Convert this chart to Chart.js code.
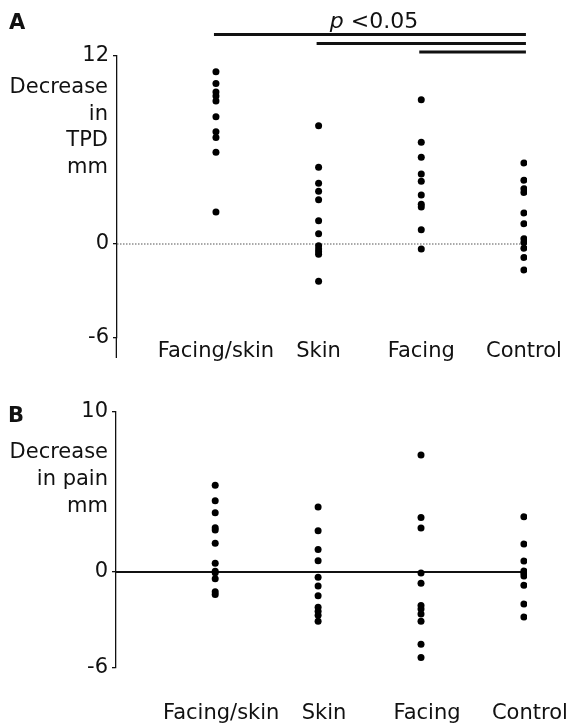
<!DOCTYPE html>
<html>
<head>
<meta charset="utf-8">
<script src="https://cdn.jsdelivr.net/npm/chart.js@4.4.1/dist/chart.umd.min.js"></script>
<style>
body { margin: 0; background: #fff; }
canvas { display: block; }
</style>
</head>
<body>
<canvas id="chartA" width="571" height="380"></canvas>
<canvas id="chartB" width="571" height="347"></canvas>
<script>
const FONT = "'DejaVu Sans', Verdana, sans-serif";
const INK = "#111";

const groups = ["Facing/skin", "Skin", "Facing", "Control"];

// panel A - decrease in TPD, mm
const tpdFacingSkin = [11.0, 10.25, 9.7, 9.45, 9.12, 8.13, 7.17, 6.8, 5.85, 2.05];
const tpdSkin = [7.55, 4.9, 3.88, 3.37, 2.82, 1.48, 0.65, -0.11, -0.32, -0.49, -0.66, -2.38];
const tpdFacing = [9.2, 6.5, 5.53, 4.47, 4.0, 3.13, 2.53, 2.36, 0.91, -0.32];
const tpdControl = [5.17, 4.07, 3.53, 3.28, 1.98, 1.3, 0.34, 0.1, -0.27, -0.86, -1.66];
const tpdTicks = [-6, 0, 12];
const tpdTitle = ["Decrease", "in", "TPD", "mm"];
// group pairs marked p < 0.05 (1-based group numbers)
const sigPairs = [[1, 4], [2, 4], [3, 4]];

// panel B - decrease in pain, mm
const painFacingSkin = [5.42, 4.46, 3.71, 2.77, 2.63, 1.79, 0.54, 0.04, -0.04, -0.42, -1.23, -1.4];
const painSkin = [4.06, 2.58, 1.4, 0.71, -0.33, -0.88, -1.48, -2.21, -2.45, -2.7, -3.08];
const painFacing = [7.31, 3.4, 2.75, -0.06, -0.71, -2.1, -2.31, -2.63, -3.08, -4.52, -5.35];
const painControl = [3.46, 1.75, 0.69, 0.06, -0.08, -0.25, -0.83, -2.0, -2.81];
const painTicks = [-6, 0, 10];
const painTitle = ["Decrease", "in pain", "mm"];

const toPoints = (series) => {
  let pts = [];
  series.forEach((vals, i) => {
    vals.forEach(v => pts.push({ x: i + 1, y: v }));
  });
  return pts;
};

// draws panel letter, stacked y title, zero line and significance bars
const panelDecor = {
  id: "panelDecor",
  beforeDatasetsDraw(chart, args, opts) {
    const ctx = chart.ctx;
    const area = chart.chartArea;
    const ys = chart.scales.y;

    ctx.save();
    const y0 = ys.getPixelForValue(0);
    ctx.strokeStyle = opts.zeroColor;
    ctx.lineWidth = opts.zeroWidth;
    ctx.setLineDash(opts.zeroDash);
    ctx.beginPath();
    ctx.moveTo(area.left, y0);
    ctx.lineTo(area.right, y0);
    ctx.stroke();
    ctx.restore();
  },
  afterDraw(chart, args, opts) {
    const ctx = chart.ctx;
    const area = chart.chartArea;
    const xs = chart.scales.x;

    ctx.save();
    // axis line runs a little past the lowest tick in panel A
    if (opts.axisExtra > 0) {
      ctx.strokeStyle = INK;
      ctx.lineWidth = 1.3;
      ctx.beginPath();
      ctx.moveTo(area.left - 0.65, area.bottom);
      ctx.lineTo(area.left - 0.65, area.bottom + opts.axisExtra);
      ctx.stroke();
    }

    ctx.fillStyle = INK;
    ctx.textBaseline = "alphabetic";
    ctx.textAlign = "left";
    ctx.font = "bold 21px " + FONT;
    ctx.fillText(opts.letter, opts.letterX, opts.letterY);

    ctx.font = "21px " + FONT;
    ctx.textAlign = "right";
    ctx.textBaseline = "middle";
    opts.title.forEach((line, i) => {
      ctx.fillText(line, opts.titleX, opts.titleY + i * opts.titleGap);
    });

    if (opts.pairs.length) {
      ctx.strokeStyle = INK;
      ctx.lineWidth = 3;
      opts.pairs.forEach((p, i) => {
        const y = area.top - opts.barOffsets[i];
        ctx.beginPath();
        ctx.moveTo(xs.getPixelForValue(p[0]) - 2, y);
        ctx.lineTo(xs.getPixelForValue(p[1]) + 2, y);
        ctx.stroke();
      });
      const first = opts.pairs[0];
      const cx = (xs.getPixelForValue(first[0]) + xs.getPixelForValue(first[1])) / 2 + 4;
      const by = area.top - 28;
      ctx.textBaseline = "alphabetic";
      ctx.textAlign = "left";
      ctx.font = "italic 22px " + FONT;
      const pW = ctx.measureText("p").width;
      ctx.font = "22px " + FONT;
      const restW = ctx.measureText(" <0.05").width;
      const sx = cx - (pW + restW) / 2;
      ctx.font = "italic 22px " + FONT;
      ctx.fillText("p", sx, by);
      ctx.font = "22px " + FONT;
      ctx.fillText(" <0.05", sx + pW, by);
    }
    ctx.restore();
  }
};

const makeChart = (id, series, p) => {
  return new Chart(document.getElementById(id), {
    type: "scatter",
    data: {
      datasets: [{
        data: toPoints(series),
        pointRadius: 3.5,
        pointBackgroundColor: "#000",
        pointBorderWidth: 0,
        pointHoverRadius: 3.5
      }]
    },
    options: {
      responsive: false,
      animation: false,
      events: [],
      layout: { padding: { top: p.top, right: 44, left: 0, bottom: 0 } },
      plugins: {
        legend: { display: false },
        tooltip: { enabled: false },
        panelDecor: p.decor
      },
      scales: {
        x: {
          type: "linear",
          min: 0.036,
          max: 4.03,
          afterBuildTicks: s => { s.ticks = groups.map((g, i) => ({ value: i + 1 })); },
          afterFit: s => {
            s.height = p.xHeight;
            s.paddingLeft = 0;
            s.paddingRight = 0;
          },
          border: { display: false },
          grid: { display: false, drawTicks: false },
          ticks: {
            autoSkip: false,
            maxRotation: 0,
            padding: p.xPad,
            labelOffset: p.labelOffset,
            color: INK,
            font: { family: FONT, size: 21 },
            callback: v => groups[Math.round(v) - 1]
          }
        },
        y: {
          min: p.yMin,
          max: p.yMax,
          afterBuildTicks: s => { s.ticks = p.yTicks.map(v => ({ value: v })); },
          afterFit: s => { s.width = p.axisLeft; },
          border: { display: true, color: INK, width: 1.3 },
          grid: { drawOnChartArea: false, drawTicks: true, tickLength: 4, color: INK, lineWidth: 1.3 },
          ticks: { padding: 4, color: INK, font: { family: FONT, size: 21 } }
        }
      }
    },
    plugins: [panelDecor]
  });
};

makeChart("chartA", [tpdFacingSkin, tpdSkin, tpdFacing, tpdControl], {
  top: 56, xHeight: 42, xPad: 1, labelOffset: 0,
  yMin: -6, yMax: 12, yTicks: tpdTicks, axisLeft: 117,
  decor: {
    letter: "A", letterX: 9, letterY: 29,
    title: tpdTitle, titleX: 108, titleY: 88, titleGap: 26.5,
    pairs: sigPairs, barOffsets: [21.5, 12.5, 4], axisExtra: 20,
    zeroColor: "#555", zeroWidth: 1.2, zeroDash: [1.5, 1.5]
  }
});

makeChart("chartB", [painFacingSkin, painSkin, painFacing, painControl], {
  top: 32, xHeight: 59, xPad: 33, labelOffset: 6,
  yMin: -6, yMax: 10, yTicks: painTicks, axisLeft: 116,
  decor: {
    letter: "B", letterX: 8, letterY: 42,
    title: painTitle, titleX: 108, titleY: 73, titleGap: 27, axisExtra: 0,
    pairs: [], barOffsets: [],
    zeroColor: INK, zeroWidth: 2, zeroDash: []
  }
});
</script>
</body>
</html>
